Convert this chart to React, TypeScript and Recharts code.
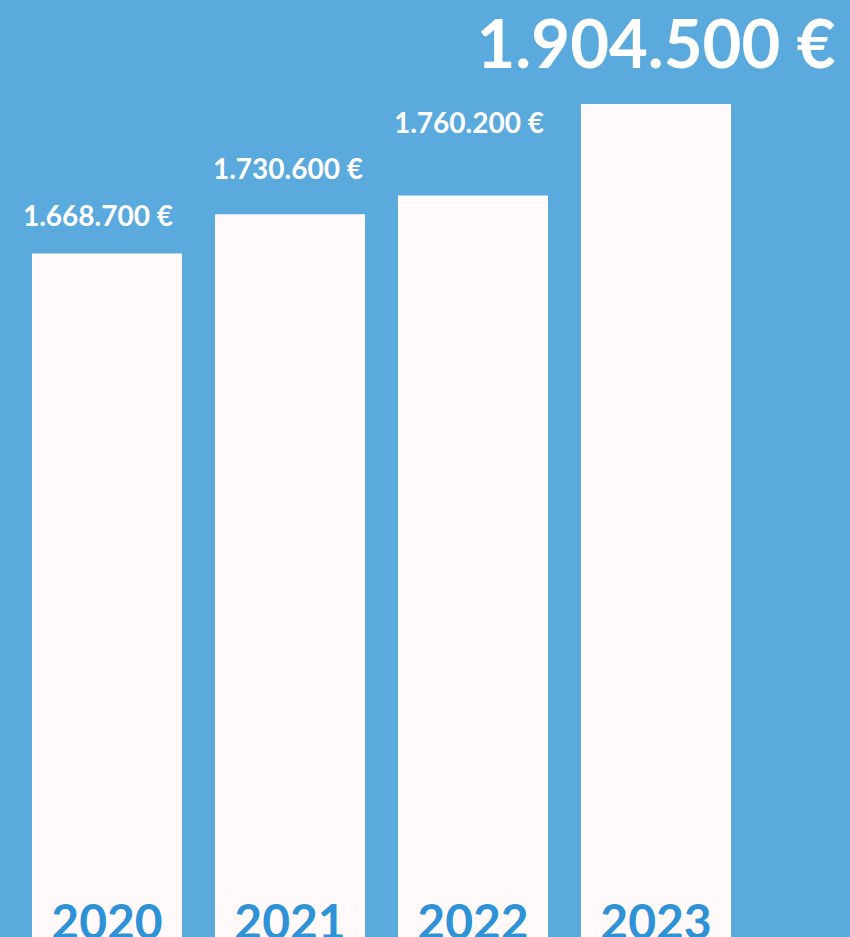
import React from 'react';
import { BarChart, Bar, XAxis, YAxis, LabelList } from 'recharts';

const YEARS = ['2020', '2021', '2022', '2023'];
const TOTALS = [1668700, 1730600, 1760200, 1904500];
const VALUE_LABELS = ['1.668.700 €', '1.730.600 €', '1.760.200 €', '1.904.500 €'];

const BG = '#5BAADD';
const BAR = '#FFFAF9';
const YEAR_COLOR = '#2D92D6';
const FONT = 'Lato, "Open Sans", sans-serif';

const chartData = YEARS.map((year, i) => ({
  year,
  total: TOTALS[i],
  label: VALUE_LABELS[i],
}));

// the last value is the highlighted one
const isBig = (index: number) => index === YEARS.length - 1;

// distance from bar top to label baseline, per bar (the original isn't to scale)
const LABEL_GAP = [27, 35, 62, 36];
const LABEL_DX = [-9, -2, -4, 0];

function ValueLabel(props: any) {
  const { x, y, width, index, value } = props;
  const big = isBig(index);
  return (
    <text
      x={x + width / 2 + LABEL_DX[index]}
      y={y - LABEL_GAP[index]}
      textAnchor="middle"
      fill="#ffffff"
      fontFamily={FONT}
      fontWeight={700}
      fontSize={big ? 67 : 28}
    >
      {value}
    </text>
  );
}

function YearLabel(props: any) {
  const { x, y, width, height, value } = props;
  return (
    <text
      x={x + width / 2}
      y={y + height + 2}
      textAnchor="middle"
      fill={YEAR_COLOR}
      fontFamily={FONT}
      fontWeight={700}
      fontSize={48}
    >
      {value}
    </text>
  );
}

export default function App() {
  return (
    <div
      style={{
        position: 'absolute',
        top: 0,
        left: 0,
        width: 850,
        height: 937,
        background: BG,
        overflow: 'hidden',
      }}
    >
      <BarChart
        width={850}
        height={937}
        data={chartData}
        margin={{ top: 0, right: 103, left: 15, bottom: 0 }}
      >
        <XAxis dataKey="year" hide />
        <YAxis hide domain={[590500, 2068500]} allowDataOverflow />
        <Bar dataKey="total" fill={BAR} barSize={150} isAnimationActive={false}>
          <LabelList dataKey="label" content={<ValueLabel />} />
          <LabelList dataKey="year" content={<YearLabel />} />
        </Bar>
      </BarChart>
    </div>
  );
}
